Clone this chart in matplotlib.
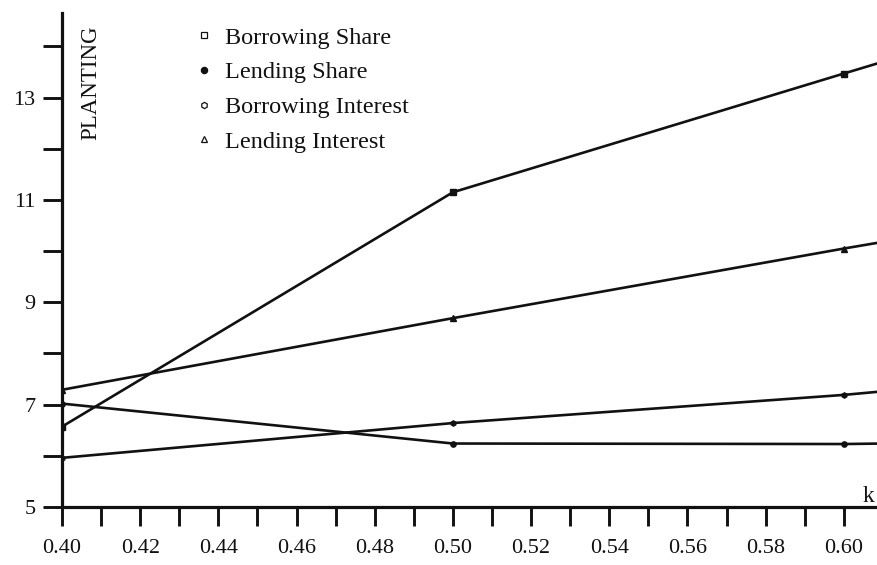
import matplotlib
matplotlib.use("Agg")
import matplotlib.pyplot as plt
from matplotlib.lines import Line2D
from matplotlib.ticker import FixedLocator

plt.rcParams['font.family'] = ['Liberation Serif', 'DejaVu Serif']

# k values and planting levels for each contract type
k = [0.40, 0.50, 0.60, 0.61]
borrowing_share = [6.57, 11.15, 13.47, 13.70]
lending_share = [7.02, 6.24, 6.23, 6.24]
borrowing_interest = [5.96, 6.64, 7.19, 7.26]
lending_interest = [7.29, 8.69, 10.05, 10.18]

labels = ["Borrowing Share", "Lending Share", "Borrowing Interest", "Lending Interest"]
markers = ["s", "o", "h", "^"]
series = [borrowing_share, lending_share, borrowing_interest, lending_interest]

x_labels = ["0.40", "0.42", "0.44", "0.46", "0.48", "0.50",
            "0.52", "0.54", "0.56", "0.58", "0.60"]
y_labels = ["5", "7", "9", "11", "13"]

ink = "#111111"

fig = plt.figure(figsize=(8.77, 5.65), dpi=100)
ax = fig.add_axes([0.0707, 0.1027, 0.9293, 0.874])

for vals, m in zip(series, markers):
    ax.plot(k, vals, color=ink, lw=1.9, marker=m, markersize=3.8,
            markevery=[0, 1, 2], markerfacecolor=ink, markeredgecolor=ink,
            clip_on=True)

ax.set_xlim(0.40, 0.6085)
ax.set_ylim(5, 14.65)

ax.xaxis.set_major_locator(FixedLocator([float(s) for s in x_labels]))
ax.set_xticklabels(x_labels)
ax.xaxis.set_minor_locator(FixedLocator([0.41 + 0.02 * i for i in range(10)]))
ax.yaxis.set_major_locator(FixedLocator([float(s) for s in y_labels]))
ax.set_yticklabels(y_labels)
ax.yaxis.set_minor_locator(FixedLocator([6, 8, 10, 12, 14]))

for side in ("top", "right"):
    ax.spines[side].set_visible(False)
for side in ("left", "bottom"):
    ax.spines[side].set_linewidth(2.3)
    ax.spines[side].set_color(ink)

ax.tick_params(axis="both", which="both", direction="out", length=14,
               width=2.1, color=ink, labelsize=16, labelcolor=ink)
ax.tick_params(axis="x", which="both", pad=9)
ax.tick_params(axis="y", which="both", pad=5)

ax.text(0.0355, 0.975, "PLANTING", transform=ax.transAxes, rotation=90,
        ha="center", va="top", fontsize=16.5, color=ink)
ax.text(0.99, 0.0, "k", transform=ax.transAxes, ha="center",
        va="bottom", fontsize=17, color=ink)

handles = [Line2D([], [], linestyle="none", marker=m, markersize=4.5,
                  markerfacecolor="white" if m in ("s", "h", "^") else ink,
                  markeredgecolor=ink, markeredgewidth=0.9)
           for m in markers]
ax.legend(handles, labels, loc="upper left", bbox_to_anchor=(0.148, 0.997),
          frameon=False, fontsize=17.5, handlelength=0.8, handletextpad=0.45,
          labelspacing=0.52, borderaxespad=0.1, labelcolor=ink)

fig.savefig("out.png", dpi=100, facecolor="white")
